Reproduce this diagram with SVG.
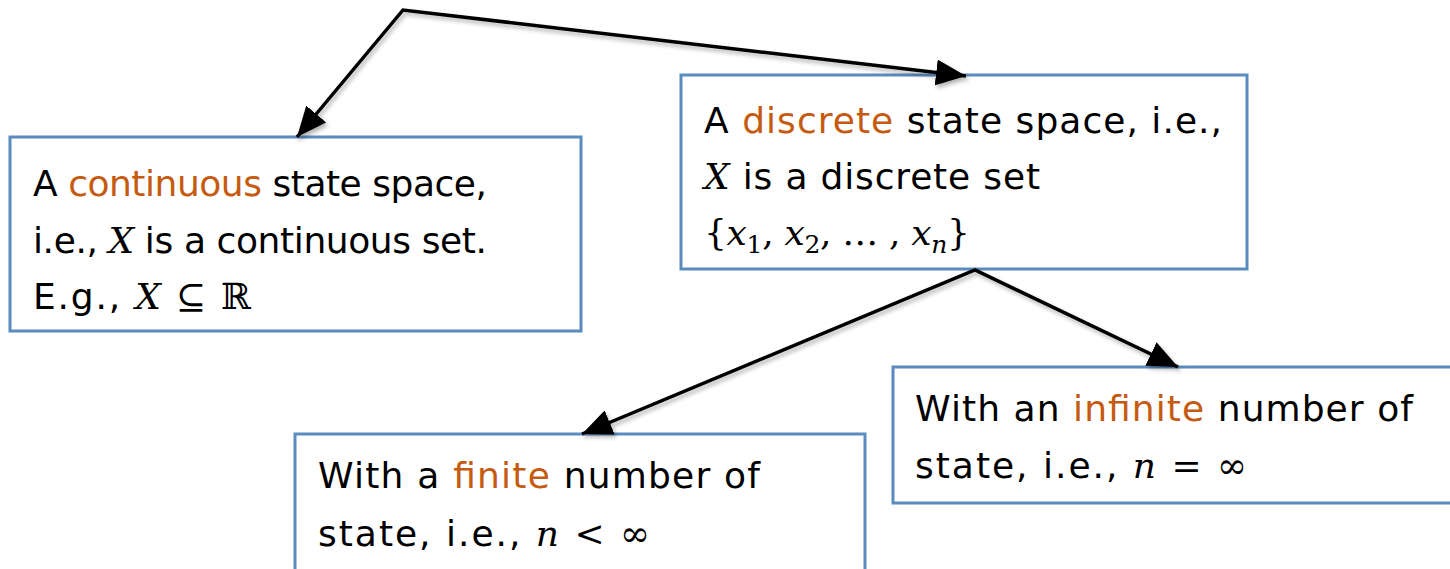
<svg xmlns="http://www.w3.org/2000/svg" width="1450" height="569" viewBox="0 0 1450 569">
<style>
.box{fill:#fff;stroke:#5B8CBF;stroke-width:3}
.t{font-family:"DejaVu Sans","Liberation Sans",sans-serif;font-size:36px;fill:#000}
.o{fill:#C55A11}
.m{font-family:"DejaVu Serif","Liberation Serif",serif;font-style:italic}
.mu{font-family:"DejaVu Serif","Liberation Serif",serif}
.c{fill:none;stroke:#000;stroke-width:3.5;stroke-linejoin:miter}
</style>
<defs>
<marker id="ah" viewBox="0 0 30 26" refX="30" refY="13" markerWidth="30" markerHeight="26" markerUnits="userSpaceOnUse" orient="auto-start-reverse">
<path d="M0,0 L30,13 L0,26 Z" fill="#000"/>
</marker>
<filter id="sh" x="-10%" y="-10%" width="120%" height="120%">
<feDropShadow dx="2" dy="3" stdDeviation="2" flood-color="#000" flood-opacity="0.3"/>
</filter>
</defs>
<g id="n-continuous">
<rect class="box" x="10" y="137" width="571" height="194"/>
<text class="t" x="33" y="196" textLength="454" lengthAdjust="spacing">A <tspan class="o">continuous</tspan> state space,</text>
<text class="t" x="33" y="253" textLength="454" lengthAdjust="spacing">i.e., <tspan class="m">X</tspan> is a continuous set.</text>
<text class="t" x="33" y="309" textLength="218" lengthAdjust="spacing">E.g., <tspan class="m">X</tspan> <tspan class="mu">⊆ ℝ</tspan></text>
</g>
<g id="n-discrete">
<rect class="box" x="681" y="75" width="566" height="194"/>
<text class="t" x="704" y="133" textLength="518" lengthAdjust="spacing">A <tspan class="o">discrete</tspan> state space, i.e.,</text>
<text class="t" x="704" y="189" textLength="336" lengthAdjust="spacing"><tspan class="m">X</tspan> is a discrete set</text>
<text class="t mu" x="704" y="245" textLength="266" lengthAdjust="spacing">{<tspan class="m">x</tspan><tspan font-size="25" dy="8">1</tspan><tspan dy="-8">, </tspan><tspan class="m">x</tspan><tspan font-size="25" dy="8">2</tspan><tspan dy="-8">, … , </tspan><tspan class="m">x</tspan><tspan class="m" font-size="25" dy="8">n</tspan><tspan dy="-8">}</tspan></text>
</g>
<g id="n-finite">
<rect class="box" x="295" y="434" width="570" height="150"/>
<text class="t" x="318" y="488" textLength="442" lengthAdjust="spacing">With a <tspan class="o">finite</tspan> number of</text>
<text class="t" x="318" y="546" textLength="332" lengthAdjust="spacing">state, i.e., <tspan class="m">n</tspan><tspan class="mu"> &lt;  ∞</tspan></text>
</g>
<g id="n-infinite">
<rect class="box" x="893" y="367" width="560" height="136"/>
<text class="t" x="915" y="421" textLength="498" lengthAdjust="spacing">With an <tspan class="o">infinite</tspan> number of</text>
<text class="t" x="915" y="478" textLength="332" lengthAdjust="spacing">state, i.e., <tspan class="m">n</tspan><tspan class="mu"> =  ∞</tspan></text>
</g>
<g id="connectors" filter="url(#sh)">
<path class="c" d="M297,137 L403,10 L966,76" marker-start="url(#ah)" marker-end="url(#ah)"/>
<path class="c" d="M582,434 L975,270 L1178,367" marker-start="url(#ah)" marker-end="url(#ah)"/>
</g>
</svg>
